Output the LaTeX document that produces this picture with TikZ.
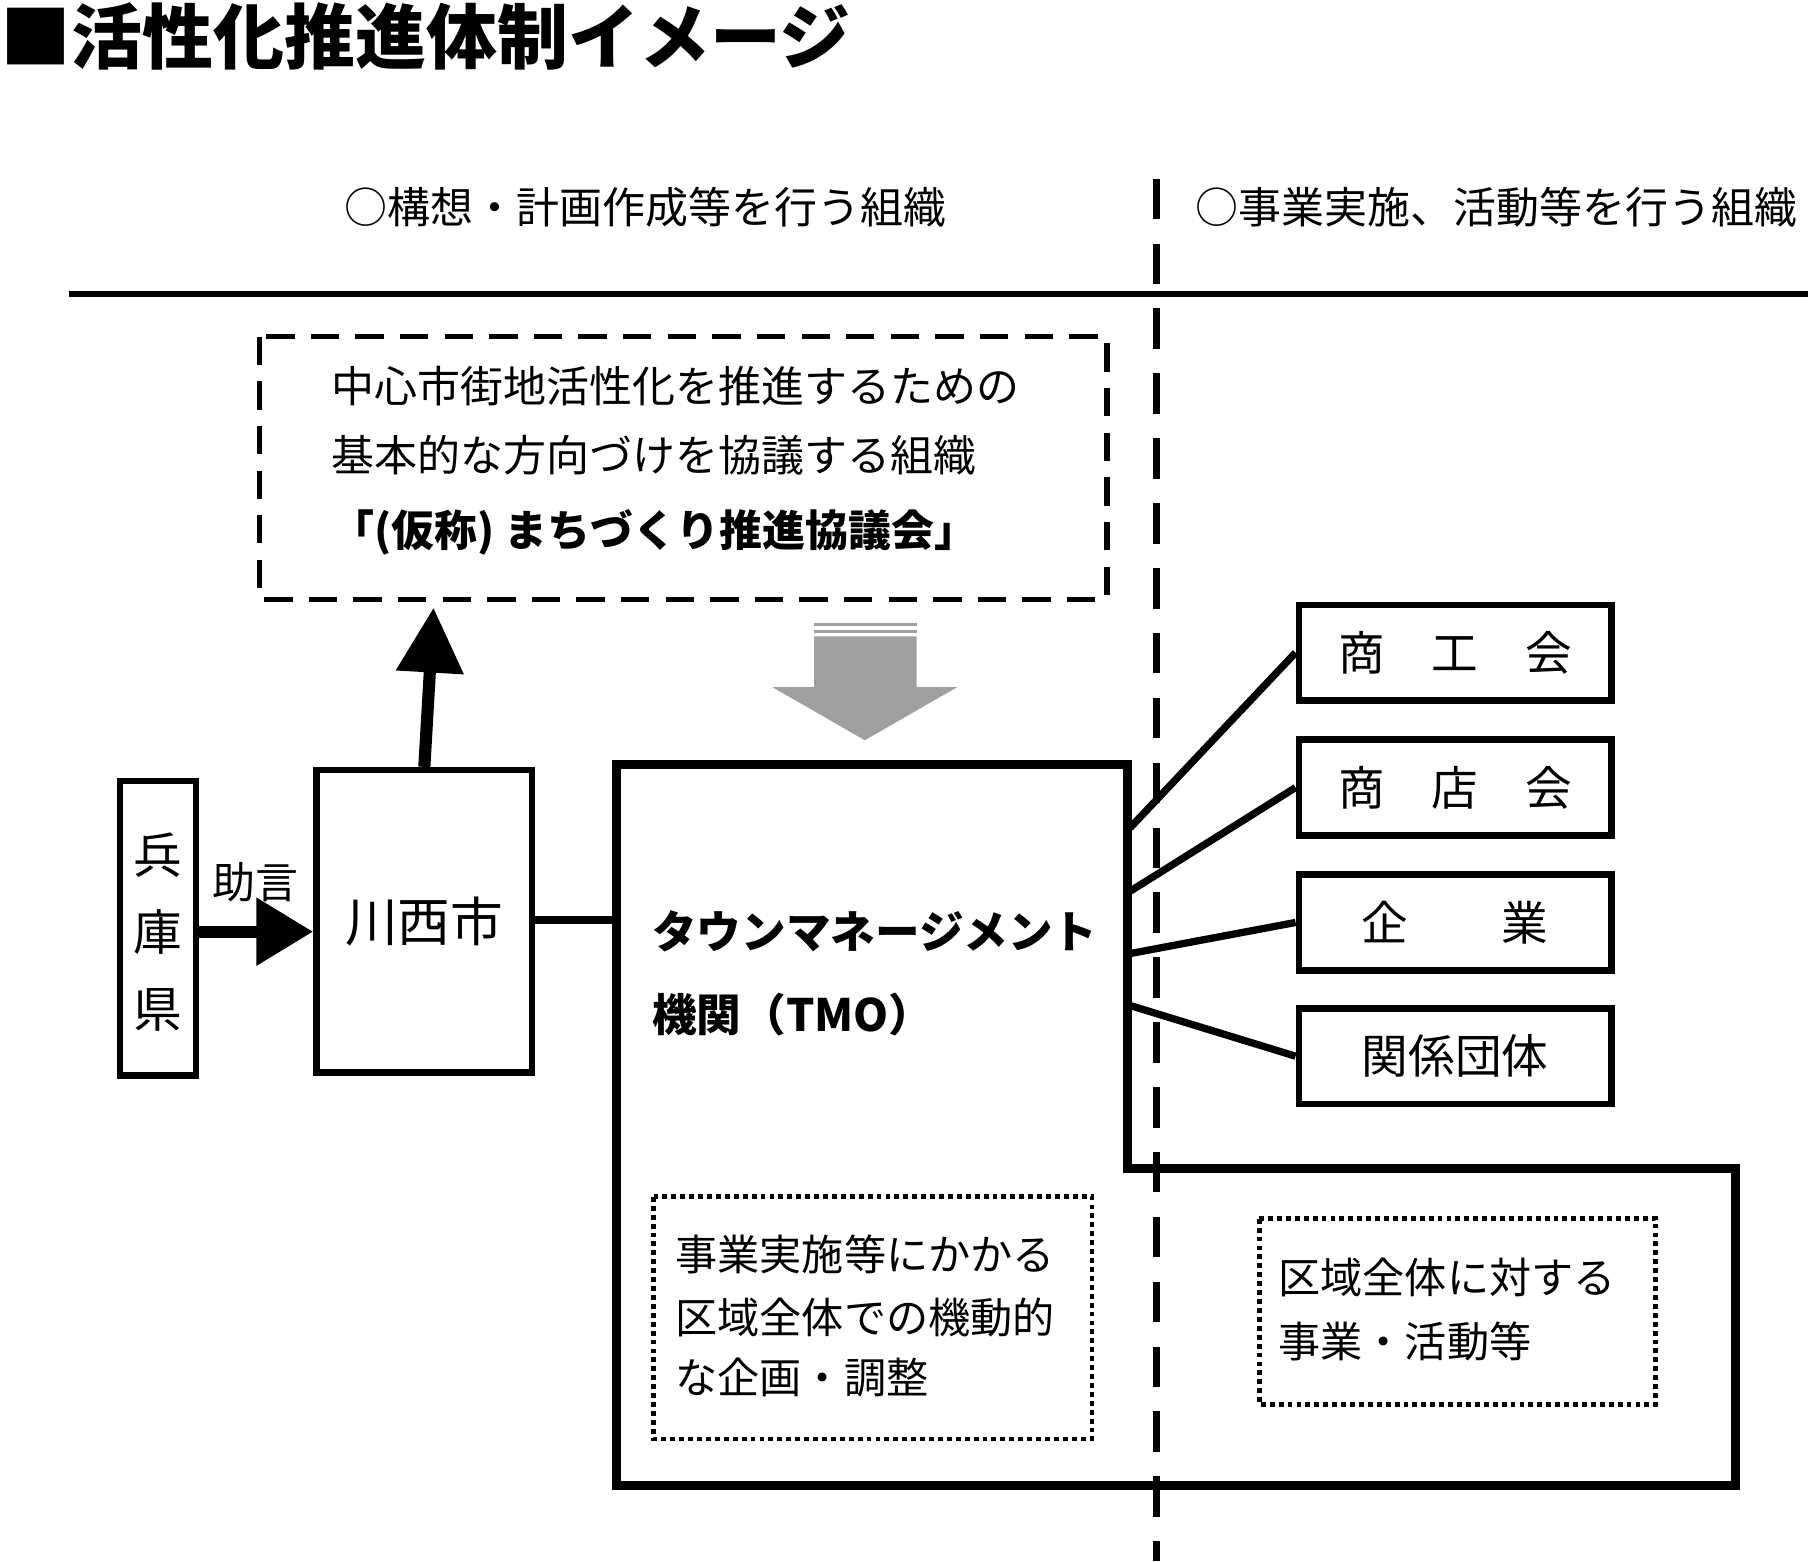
\documentclass[tikz,border=0pt]{standalone}
\usepackage{fontspec}
\usetikzlibrary{arrows.meta}
\setmainfont{Noto Sans CJK JP}
\begin{document}
\begin{tikzpicture}[x=0.01cm,y=-0.01cm,
  box/.style={draw,line width=1.6pt},
  txt/.style={font=\fontsize{10.6}{13}\selectfont,inner sep=0pt},
  conn/.style={line width=1.8pt}]
\useasboundingbox (0,0) rectangle (1568,1354);
\node[anchor=west,inner sep=0pt,font=\fontsize{17.5}{20}\selectfont\bfseries] (title) at (0,32) {■活性化推進体制イメージ};
\node[txt] (h1) at (560,180) {○構想・計画作成等を行う組織};
\node[txt] (h2) at (1298,180) {○事業実施、活動等を行う組織};
\draw[line width=1.5pt] (60,255) -- (1568,255);
\draw[line width=1.5pt,dash pattern=on 10pt off 6pt] (1003,155) -- (1003,1354);
\draw[line width=1.3pt,dash pattern=on 7pt off 4pt] (225,292) rectangle (960,520);
\node[txt,anchor=west] (c1) at (287,335) {中心市街地活性化を推進するための};
\node[txt,anchor=west] (c2) at (287,395) {基本的な方向づけを協議する組織};
\node[txt,anchor=west,font=\fontsize{10.6}{13}\selectfont\bfseries] (c3) at (287,462) {「(仮称) まちづくり推進協議会」};
\coordinate (ctop) at (376,527);
% grey arrow
\fill[gray!75] (706,552) -- (795,552) -- (795,596) -- (830,596) -- (750,642) -- (670,596) -- (706,596) -- cycle;
\fill[gray!75] (706,540) rectangle (795,543);
\fill[gray!75] (706,546) rectangle (795,549);
\node[box,minimum width=0.66cm,minimum height=2.55cm,inner sep=0pt] (hyogo) at (137,805) {};
\node[txt,align=center,font=\fontsize{12}{19}\selectfont] at (137,808) {兵\\庫\\県};
\node[box,minimum width=1.87cm,minimum height=2.62cm,inner sep=0pt,font=\fontsize{13}{16}\selectfont] (kawa) at (368,799) {川西市};
\draw[line width=3pt,-{Triangle[length=14pt,width=16pt]}] (hyogo.east |- 0,808) -- (kawa.west |- 0,808);
\node[txt] (jogen) at (222,765) {助言};
\draw[line width=3pt,-{Triangle[length=16pt,width=16pt]}] (kawa.north) -- (ctop);
\coordinate (tl) at (535,798);
\draw[conn] (kawa.east |- tl) -- (tl);
\draw[line width=2.2pt] (535,663) -- (978,663) -- (978,1013) -- (1505,1013) -- (1505,1288) -- (535,1288) -- cycle;
\node[txt,anchor=west,font=\fontsize{11}{14}\selectfont\bfseries] (t1) at (565,808) {タウンマネージメント};
\node[txt,anchor=west,font=\fontsize{11}{14}\selectfont\bfseries] (t2) at (565,880) {機関（TMO）};
\foreach \n/\y/\t in {a/566/商　工　会, b/683/商　店　会, c/800/企　　業, d/916/関係団体}{
  \node[box,minimum width=2.71cm,minimum height=0.83cm,inner sep=0pt,font=\fontsize{11.5}{14}\selectfont] (\n) at (1262,\y) {\t};
}
\coordinate (pa) at (980,718); \coordinate (pb) at (980,773);
\coordinate (pc) at (980,827); \coordinate (pd) at (980,872);
\draw[conn] (pa) -- (a.west); \draw[conn] (pb) -- (b.west);
\draw[conn] (pc) -- (c.west); \draw[conn] (pd) -- (d.west);
\draw[line width=1.2pt,densely dotted] (567,1038) rectangle (947,1248);
\node[txt,anchor=west,font=\fontsize{10.4}{13}\selectfont] (d1) at (585,1088) {事業実施等にかかる};
\node[txt,anchor=west,font=\fontsize{10.4}{13}\selectfont] (d2) at (585,1143) {区域全体での機動的};
\node[txt,anchor=west,font=\fontsize{10.4}{13}\selectfont] (d3) at (585,1195) {な企画・調整};
\draw[line width=1.2pt,densely dotted] (1092,1057) rectangle (1436,1218);
\node[txt,anchor=west,font=\fontsize{10.4}{13}\selectfont] (e1) at (1108,1108) {区域全体に対する};
\node[txt,anchor=west,font=\fontsize{10.4}{13}\selectfont] (e2) at (1108,1163) {事業・活動等};
\end{tikzpicture}
\end{document}
